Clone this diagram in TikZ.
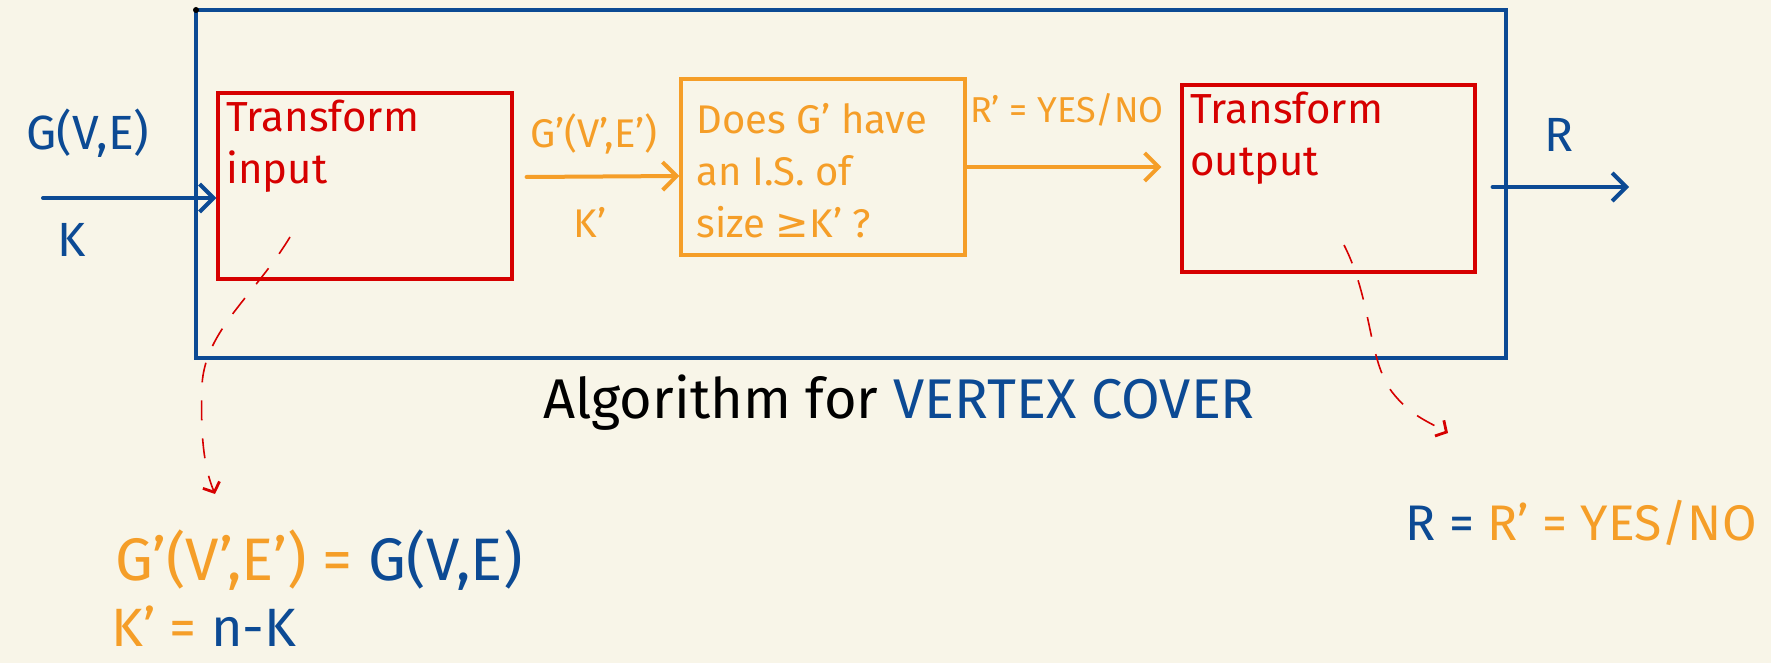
\documentclass[tikz,border=0pt]{standalone}
\usepackage{fontspec}
\setmainfont{Fira Sans}
\newfontfamily\dejavu{DejaVu Sans}
\usetikzlibrary{arrows.meta}
\definecolor{bg}{RGB}{248,245,232}
\definecolor{pblue}{RGB}{12,74,148}
\definecolor{pred}{RGB}{214,0,0}
\definecolor{porange}{RGB}{245,158,40}
\begin{document}
\begin{tikzpicture}[x=0.5pt,y=-0.5pt,
  box/.style={draw,line width=1.6pt,inner sep=0pt},
  hand/.style={inner sep=0pt,font=\fontsize{20}{26}\selectfont},
  big/.style={inner sep=0pt,font=\fontsize{28}{32}\selectfont},
  arr/.style={line width=2pt,line cap=round,-{Straight Barb[length=7pt,width=14pt,line width=2pt]}},
  note/.style={pred,line width=0.8pt,dash pattern=on 10pt off 9pt,-{Straight Barb[length=4pt,width=9pt,line width=1.4pt]}}
]
\fill[bg] (0,0) rectangle (1771,663);
\useasboundingbox (0,0) rectangle (1771,663);

% boxes
\node[box,pblue,minimum width=655pt,minimum height=174pt] (outer) at (851,184) {};
\fill (196,10) circle (1.5pt);
\node[box,pred,minimum width=147pt,minimum height=93pt] (in1) at (365,186) {};
\node[box,porange,minimum width=142pt,minimum height=88pt] (ind) at (823,167) {};
\node[box,pred,minimum width=146.5pt,minimum height=93.5pt] (out1) at (1328.5,178.5) {};

% box texts
\node[hand,pred,anchor=north west,align=left,font=\fontsize{21}{26}\selectfont] (t1) at (226,100) {Transform\\input};
\node[hand,porange,anchor=north west,align=left] (t2) at (696,103) {Does G' have\\an I.S. of\\size {\dejavu≥}K' ?};
\node[hand,pred,anchor=north west,align=left,font=\fontsize{21}{26}\selectfont] (t3) at (1190,92) {Transform\\output};

% labels
\node[hand,pblue,font=\fontsize{24}{28}\selectfont] (gve) at (88,133) {G(V,E)};
\node[hand,pblue,font=\fontsize{24}{28}\selectfont] (k) at (72,240) {K};
\node[hand,porange] (g2) at (594,134) {G'(V',E')};
\node[hand,porange] (k2) at (590,222) {K'};
\node[hand,porange,font=\fontsize{18}{22}\selectfont] (r2) at (1067,110) {R' = YES/NO};
\node[hand,pblue,font=\fontsize{24}{28}\selectfont] (r) at (1559,135) {R};

% connectors
\coordinate (inp) at (43,198);
\draw[arr,pblue] (inp) -- (in1.west |- inp);
\draw[arr,porange] ([xshift=6.5pt,yshift=4.5pt]in1.east) -- ([yshift=-4.5pt]ind.west);
\draw[arr,porange] ([xshift=0.5pt]ind.east) -- ([xshift=-9.5pt,yshift=5.75pt]out1.west);
\coordinate (outp) at (1629,187);
\draw[arr,pblue] ([xshift=8pt]out1.east |- outp) -- (outp);

% caption
\node[big] (cap) at (899,403) {Algorithm for \textcolor{pblue}{VERTEX COVER}};

% notes
\node[big,anchor=west,font=\fontsize{30}{34}\selectfont] (eq1) at (115,560) {\textcolor{porange}{G'(V',E') =} \textcolor{pblue}{G(V,E)}};
\node[big,anchor=west,font=\fontsize{27}{30}\selectfont] (eq2) at (111,626) {\textcolor{porange}{K' =} \textcolor{pblue}{n-K}};
\node[big,anchor=east,font=\fontsize{25}{30}\selectfont] (eq3) at (1757,523) {\textcolor{pblue}{R =} \textcolor{porange}{R' = YES/NO}};

\coordinate (d1s) at (290,237);
\coordinate (d1e) at (215,494);
\draw[note] (d1s) .. controls (255,295) and (205,330) .. (202,385) .. controls (200,440) and (205,470) .. (d1e);
\coordinate (d2s) at (1344,245);
\coordinate (d2e) at (1448,433);
\draw[note] (d2s) .. controls (1372,300) and (1368,360) .. (1392,392) .. controls (1410,415) and (1425,420) .. (d2e);
\end{tikzpicture}
\end{document}
